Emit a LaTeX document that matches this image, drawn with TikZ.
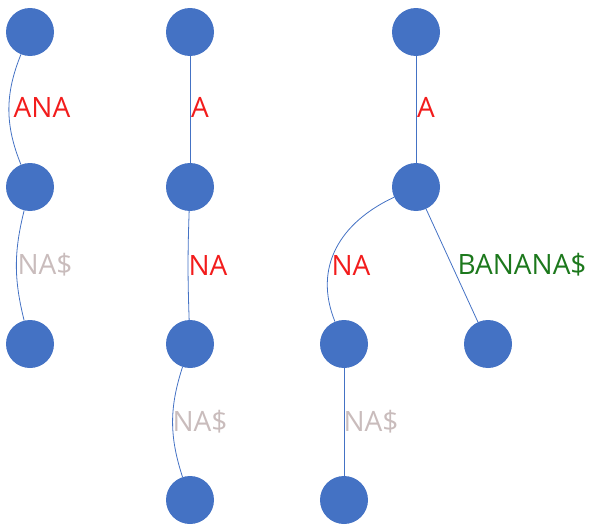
\documentclass[tikz,border=0pt]{standalone}
\usepackage{fontspec}
\setmainfont{Open Sans}
\usetikzlibrary{positioning}

\definecolor{nodeblue}{HTML}{4472C4}
\definecolor{lblred}{HTML}{F21C1C}
\definecolor{lblgray}{HTML}{C9BCBC}
\definecolor{lblgreen}{HTML}{1C781C}

\tikzset{
    vertex/.style={circle, fill=nodeblue, minimum size=48pt, inner sep=0pt},
    edge/.style={draw=nodeblue, line width=0.8pt},
    lbl/.style={font=\fontsize{28}{32}\selectfont, inner sep=0pt},
}

\begin{document}
\begin{tikzpicture}[x=1pt, y=-1pt]
        \useasboundingbox (0,0) rectangle (590,530);

        % First tree
        \node[vertex] (a1) at (30,32) {};
        \node[vertex] (a2) at (30,187) {};
        \node[vertex] (a3) at (30,344) {};
        \draw[edge] (a1) to[bend right=22] (a2);
        \draw[edge] (a2) to[bend right=14] (a3);
        \node[lbl, lblred] (ana) at (42,107) {ANA};
        \node[lbl, lblgray] (na1) at (45,265) {NA\$};

        % Second tree
        \node[vertex] (b1) at (190,32) {};
        \node[vertex] (b2) at (190,187) {};
        \node[vertex] (b3) at (190,344) {};
        \node[vertex] (b4) at (190,500) {};
        \draw[edge] (b1) -- (b2);
        \draw[edge] (b2) to[bend right=2] (b3);
        \draw[edge] (b3) to[bend right=18] (b4);
        \node[lbl, lblred] (a) at (200,107) {A};
        \node[lbl, lblred] (na2) at (208,265) {NA};
        \node[lbl, lblgray] (na3) at (200,422) {NA\$};

        % Third tree
        \node[vertex] (c1) at (416,32) {};
        \node[vertex] (c2) at (416,187) {};
        \node[vertex] (c3) at (344,344) {};
        \node[vertex] (c4) at (488,344) {};
        \node[vertex] (c5) at (344,500) {};
        \draw[edge] (c1) -- (c2);
        \draw[edge] (c2) to[out=205, in=112, looseness=1.1] (c3);
        \draw[edge] (c2) -- (c4);
        \draw[edge] (c3) -- (c5);
        \node[lbl, lblred] (a') at (426,107) {A};
        \node[lbl, lblred] (na4) at (351,265) {NA};
        \node[lbl, lblgreen] (banana) at (522,265) {BANANA\$};
        \node[lbl, lblgray] (na5) at (371,422) {NA\$};
    \end{tikzpicture}
\end{document}
